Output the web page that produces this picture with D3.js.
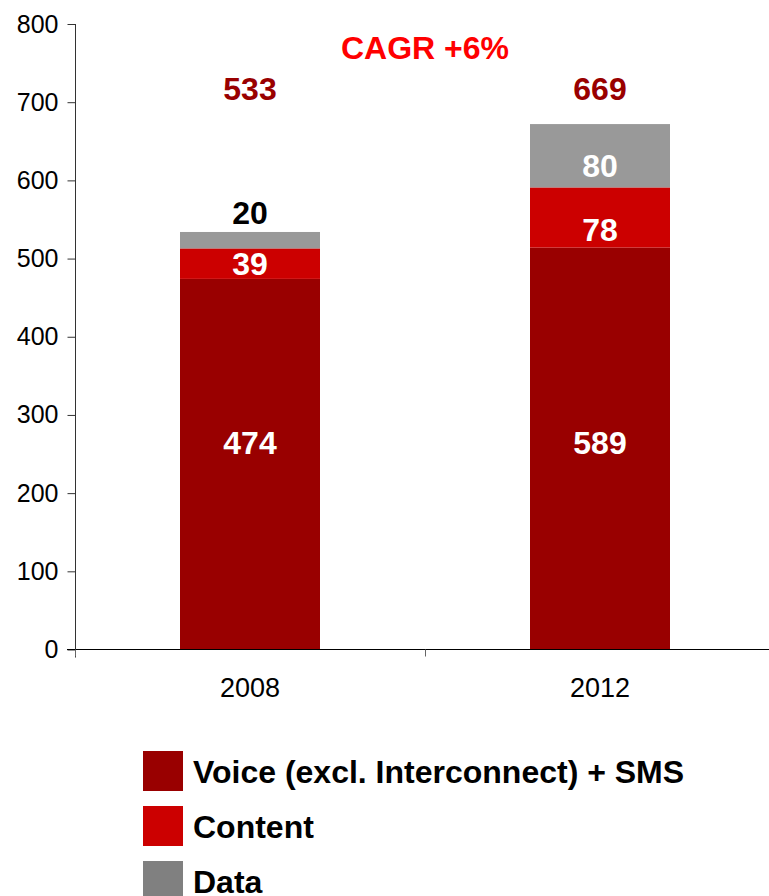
<!DOCTYPE html>
<html>
<head>
<meta charset="utf-8">
<script src="https://cdn.jsdelivr.net/npm/d3@7"></script>
<style>
  body { margin: 0; background: #fff; }
  text { font-family: Arial, "Liberation Sans", sans-serif; }
</style>
</head>
<body>
<div id="chart"></div>
<script>
// chart values (bar heights as drawn, labels as printed)
var years = ["2008", "2012"];
var voice = [474, 514];
var content = [39, 77];
var dataSeg = [21, 81];
var voiceLabels = ["474", "589"];
var contentLabels = ["39", "78"];
var dataLabels = ["20", "80"];
var totalLabels = ["533", "669"];
var yTicks = [0, 100, 200, 300, 400, 500, 600, 700, 800];
var seriesNames = ["Voice (excl. Interconnect) + SMS", "Content", "Data"];
var cagrText = "CAGR +6%";

var width = 769, height = 896;
var barColors = ["#990000", "#CC0000", "#999999"];
var legendColors = ["#990000", "#CC0000", "#808080"];

var svg = d3.select("#chart").append("svg")
	.attr("width", width)
	.attr("height", height);

var x = d3.scaleBand()
	.domain(years.concat(["_"]))
	.range([75, 1125])
	.padding(0);

var y = d3.scaleLinear()
	.domain([0, 800])
	.range([649.5, 24]);

var rows = years.map(function(yr, i){
	return {year: yr, voice: voice[i], content: content[i], data: dataSeg[i]};
});
var keys = ["voice", "content", "data"];
var stacked = d3.stack().keys(keys)(rows);

var barW = x.bandwidth() * 0.4;

// bars
stacked.forEach(function(layer, li){
	svg.append("g").selectAll("rect")
		.data(layer)
		.enter().append("rect")
		.attr("x", function(d){ return x(d.data.year) + (x.bandwidth() - barW) / 2; })
		.attr("y", function(d){ return y(d[1]); })
		.attr("width", barW)
		.attr("height", function(d){ return y(d[0]) - y(d[1]); })
		.attr("fill", barColors[li]);
});

// y axis
var yAxis = svg.append("g")
	.attr("transform", "translate(75.5,0)")
	.call(d3.axisLeft(y).tickValues(yTicks).tickSize(8).tickPadding(9));
yAxis.select(".domain").attr("d", "M0," + y(800) + "V" + (y(0) + 8)).attr("stroke", "#333");
yAxis.selectAll(".tick line").attr("stroke", "#333");
yAxis.selectAll(".tick text")
	.attr("font-size", "25px")
	.attr("font-family", "Arial, 'Liberation Sans', sans-serif")
	.attr("fill", "#000");

// x axis
svg.append("line")
	.attr("x1", 67).attr("x2", width)
	.attr("y1", y(0)).attr("y2", y(0))
	.attr("stroke", "#000");
svg.append("g").selectAll("line")
	.data(years.concat(["_"]))
	.enter().append("line")
	.attr("x1", function(d){ return x(d) + 0.5; })
	.attr("x2", function(d){ return x(d) + 0.5; })
	.attr("y1", y(0)).attr("y2", y(0) + 7)
	.attr("stroke", "#666");
svg.append("g").selectAll("text")
	.data(years)
	.enter().append("text")
	.attr("x", function(d){ return x(d) + x.bandwidth() / 2; })
	.attr("y", y(0) + 47)
	.attr("text-anchor", "middle")
	.attr("font-size", "27px")
	.text(function(d){ return d; });

// segment labels
var cx = function(d){ return x(d.data.year) + x.bandwidth() / 2; };
svg.append("g").selectAll("text")
	.data(stacked[0])
	.enter().append("text")
	.attr("x", cx)
	.attr("y", y(265))
	.attr("dy", "0.36em")
	.attr("text-anchor", "middle")
	.attr("font-size", "32px").attr("font-weight", "bold")
	.attr("fill", "#fff")
	.text(function(d, i){ return voiceLabels[i]; });

svg.append("g").selectAll("text")
	.data(stacked[1])
	.enter().append("text")
	.attr("x", cx)
	.attr("y", function(d, i){ return (y(d[0]) + y(d[1])) / 2 + (i === 0 ? 0 : 12); })
	.attr("dy", "0.36em")
	.attr("text-anchor", "middle")
	.attr("font-size", "32px").attr("font-weight", "bold")
	.attr("fill", "#fff")
	.text(function(d, i){ return contentLabels[i]; });

svg.append("g").selectAll("text")
	.data(stacked[2])
	.enter().append("text")
	.attr("x", cx)
	.attr("y", function(d, i){ return i === 0 ? y(d[1]) - 19 : (y(d[0]) + y(d[1])) / 2 + 10; })
	.attr("dy", "0.36em")
	.attr("text-anchor", "middle")
	.attr("font-size", "32px").attr("font-weight", "bold")
	.attr("fill", function(d, i){ return i === 0 ? "#000" : "#fff"; })
	.text(function(d, i){ return dataLabels[i]; });

// totals
svg.append("g").selectAll("text")
	.data(years)
	.enter().append("text")
	.attr("x", function(d){ return x(d) + x.bandwidth() / 2; })
	.attr("y", 88)
	.attr("dy", "0.36em")
	.attr("text-anchor", "middle")
	.attr("font-size", "32px").attr("font-weight", "bold")
	.attr("fill", "#990000")
	.text(function(d, i){ return totalLabels[i]; });

svg.append("text")
	.attr("x", (x(years[0]) + x(years[1]) + x.bandwidth()) / 2)
	.attr("y", 47)
	.attr("dy", "0.36em")
	.attr("text-anchor", "middle")
	.attr("font-size", "32px").attr("font-weight", "bold")
	.attr("fill", "#FF0000")
	.text(cagrText);

// legend
var legend = svg.append("g").attr("transform", "translate(143,751)");
var items = legend.selectAll("g")
	.data(seriesNames)
	.enter().append("g")
	.attr("transform", function(d, i){ return "translate(0," + (i * 55) + ")"; });
items.append("rect")
	.attr("width", 40).attr("height", 40)
	.attr("fill", function(d, i){ return legendColors[i]; });
items.append("text")
	.attr("x", 50).attr("y", 20)
	.attr("dy", "0.36em")
	.attr("font-size", "32px").attr("font-weight", "bold")
	.attr("fill", "#000")
	.text(function(d){ return d; });
</script>
</body>
</html>
